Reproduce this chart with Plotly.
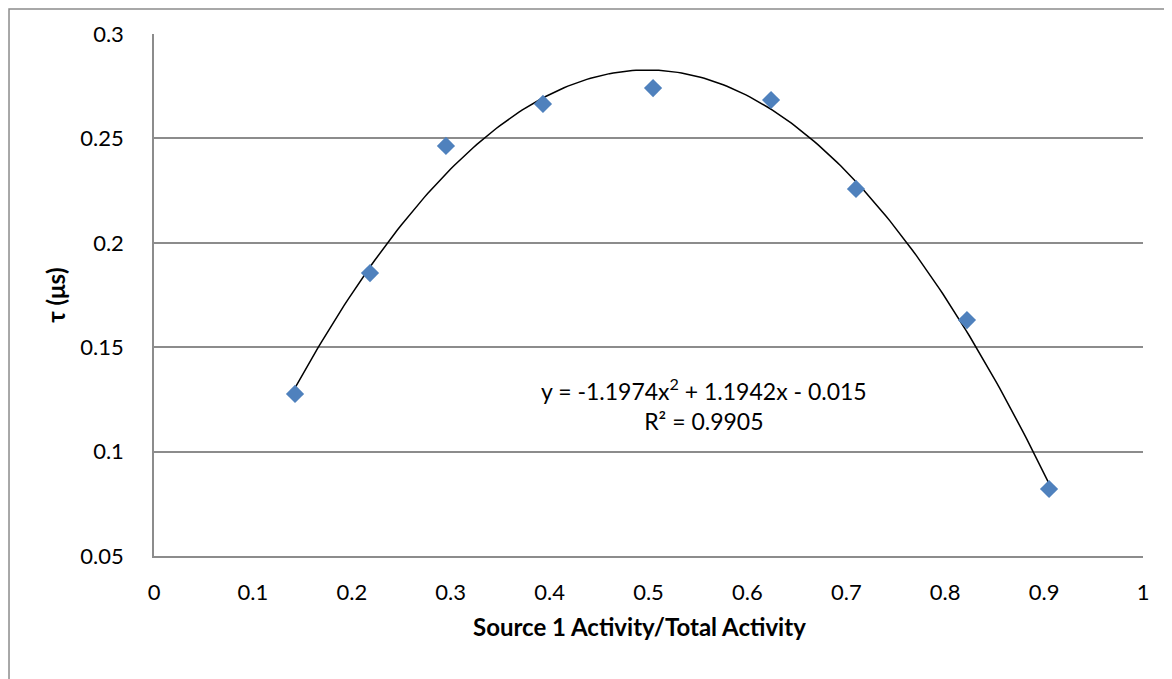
import numpy as np
import plotly.graph_objects as go

# values
ratio = [0.1426, 0.2184, 0.2952, 0.3933, 0.5046, 0.6239, 0.7098, 0.8220, 0.9050]
tau = [0.1276, 0.1855, 0.2464, 0.2665, 0.2741, 0.2684, 0.2258, 0.1630, 0.0821]

x_ticks = [0, 0.1, 0.2, 0.3, 0.4, 0.5, 0.6, 0.7, 0.8, 0.9, 1]
x_labels = ["0", "0.1", "0.2", "0.3", "0.4", "0.5", "0.6", "0.7", "0.8", "0.9", "1"]
y_ticks = [0.05, 0.1, 0.15, 0.2, 0.25, 0.3]
y_labels = ["0.05", "0.1", "0.15", "0.2", "0.25", "0.3"]

eq_text = "y = -1.1974x<sup>2</sup> + 1.1942x - 0.015<br>R² = 0.9905"

# quadratic trendline, like Excel's polynomial fit
coef = np.polyfit(ratio, tau, 2)
xs = np.linspace(min(ratio), max(ratio), 200)
ys = np.polyval(coef, xs)

FONT = "Lato"
GRID = "#8c8c8c"

fig = go.Figure()

fig.add_trace(go.Scatter(
    x=xs, y=ys, mode="lines",
    line=dict(color="black", width=1.5),
    hoverinfo="skip", showlegend=False
))

fig.add_trace(go.Scatter(
    x=ratio, y=tau, mode="markers",
    marker=dict(symbol="diamond", size=14, color="#4F81BD"),
    showlegend=False
))

fig.add_annotation(
    text=eq_text, x=0.556, y=0.1225, xref="x", yref="y",
    showarrow=False, align="center",
    font=dict(family=FONT, size=23, color="black")
)

# x axis title, Excel puts it a little left of centre
fig.add_annotation(
    text="<b>Source 1 Activity/Total Activity</b>",
    x=0.4914, y=-0.135, xref="paper", yref="paper",
    xanchor="center", yanchor="middle", showarrow=False,
    font=dict(family=FONT, size=24, color="black")
)

# outer chart border (page has an 8px body margin)
fig.add_shape(
    type="rect", xref="paper", yref="paper",
    x0=-0.1466, y0=-0.3, x1=1.2, y1=1.0479,
    line=dict(color="#8c8c8c", width=1.5), layer="below"
)

fig.update_xaxes(
    range=[0, 1], tickvals=x_ticks, ticktext=x_labels,
    showgrid=False, zeroline=False,
    showline=True, linecolor=GRID, linewidth=1.5,
    ticks="", ticklabelstandoff=16,
    tickfont=dict(family=FONT, size=22, color="black")
)
fig.update_yaxes(
    range=[0.05, 0.3], tickvals=y_ticks, ticktext=y_labels,
    showgrid=True, gridcolor=GRID, gridwidth=1.5, zeroline=False,
    showline=True, linecolor=GRID, linewidth=1.5,
    ticks="", ticklabelstandoff=24,
    tickfont=dict(family=FONT, size=22, color="black"),
    title=dict(text="<b>τ (μs)</b>",
               font=dict(family=FONT, size=24, color="black"), standoff=8)
)

fig.update_layout(
    width=1164, height=671,
    margin=dict(l=146, r=29, t=26, b=123),
    plot_bgcolor="white", paper_bgcolor="white",
    showlegend=False
)

fig.write_html("out.html")
